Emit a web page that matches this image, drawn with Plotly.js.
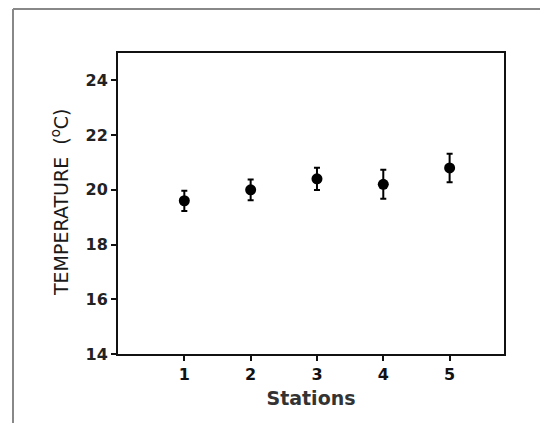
<!DOCTYPE html>
<html>
<head>
<meta charset="utf-8">
<script src="https://cdn.plot.ly/plotly-3.0.1.min.js"></script>
<style>html,body{margin:0;padding:0;background:#fff;}#chart{width:540px;height:423px;}</style>
</head>
<body>
<div id="chart"></div>
<script>
const stations = [1, 2, 3, 4, 5];
const meanTemp = [19.6, 20.0, 20.4, 20.2, 20.8];
const errTemp = [0.37, 0.38, 0.41, 0.53, 0.52];
const yTicks = [14, 16, 18, 20, 22, 24];

const W = 540, H = 423;
const m = {l: 118, r: 36, t: 53, b: 69};
const pw = W - m.l - m.r, ph = H - m.t - m.b;
const px = v => (v - m.l) / pw;
const py = v => (H - m.b - v) / ph;

const trace = {
  x: stations, y: meanTemp, type: 'scatter', mode: 'markers',
  marker: {color: '#000', size: 11, symbol: 'circle'},
  error_y: {type: 'data', array: errTemp, visible: true, color: '#000', thickness: 2, width: 3},
  showlegend: false, hoverinfo: 'skip'
};

const fontFam = '"DejaVu Sans", Verdana, sans-serif';
const layout = {
  width: W, height: H,
  margin: m,
  paper_bgcolor: '#fff', plot_bgcolor: '#fff',
  font: {family: fontFam, color: '#111'},
  xaxis: {
    range: [0, 5.82], tickvals: stations, ticktext: stations.map(String),
    ticks: 'outside', ticklen: 5, tickwidth: 2, tickcolor: '#111',
    showline: true, linecolor: '#111', linewidth: 2, mirror: true,
    showgrid: false, zeroline: false,
    tickfont: {size: 16, family: fontFam, weight: 'bold', color: '#111'},
    title: {text: 'Stations', font: {size: 19, family: fontFam, weight: 'bold', color: '#333'}, standoff: 8}
  },
  yaxis: {
    range: [14, 25], tickvals: yTicks,
    ticks: 'outside', ticklen: 5, tickwidth: 2, tickcolor: '#111',
    showline: true, linecolor: '#111', linewidth: 2, mirror: true,
    showgrid: false, zeroline: false,
    tickfont: {size: 16, family: fontFam, weight: 'bold', color: '#222'}
  },
  annotations: [{
    xref: 'paper', yref: 'paper', x: px(60), y: py(203),
    text: 'TEMPERATURE  (<sup>o</sup>C)', textangle: -90, showarrow: false,
    font: {size: 19, family: fontFam, color: '#1a1a1a'}, xanchor: 'center', yanchor: 'middle'
  }],
  shapes: [
    {type: 'line', xref: 'paper', yref: 'paper', x0: px(13), x1: px(13), y0: py(9), y1: py(H), line: {color: '#888', width: 2}},
    {type: 'line', xref: 'paper', yref: 'paper', x0: px(13), x1: px(W), y0: py(9), y1: py(9), line: {color: '#888', width: 2}}
  ]
};

Plotly.newPlot('chart', [trace], layout, {displayModeBar: false, staticPlot: true});
</script>
</body>
</html>
